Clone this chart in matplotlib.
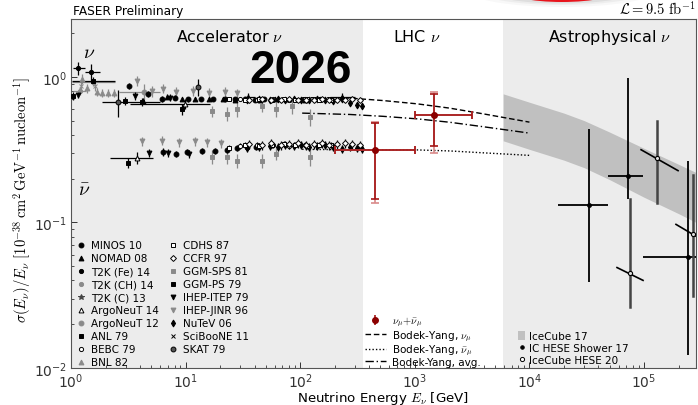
import matplotlib
matplotlib.use('Agg')
import matplotlib.pyplot as plt
from matplotlib.lines import Line2D
from matplotlib.patches import Patch, Ellipse
import numpy as np

plt.rcParams['font.family'] = ['DejaVu Sans']
plt.rcParams['mathtext.fontset'] = 'cm'

# ---------------- data (sigma/E in 1e-38 cm^2/GeV/nucleon, E in GeV) -------------
# T2K (Fe) 14
T2KFE_E = [1.16, 1.50]
T2KFE_S = [1.15, 1.08]
T2KFE_ERR = [0.12, 0.15]
T2KFE_XLO = [1.04, 1.32]
T2KFE_XHI = [1.32, 1.80]
# T2K (C) 13
T2KC_E = [1.56]
T2KC_S = [0.944]
T2KC_ERR = [0.05]
T2KC_XLO = [1.02]
T2KC_XHI = [2.42]
# T2K (CH) 14
T2KCH_E = [1.56, 1.20]
T2KCH_S = [0.92, 0.806]
T2KCH_ERR = [0.05, 0.05]
T2KCH_XLO = [1.02, 1.04]
T2KCH_XHI = [2.42, 1.35]
# BNL 82
BNL_E = [1.25, 1.38, 1.69, 1.86, 2.10, 2.35]
BNL_S = [0.97, 0.84, 0.79, 0.78, 0.78, 0.78]
BNL_ERR = [0.07, 0.06, 0.05, 0.05, 0.05, 0.05]
# SciBooNE 11
SCIB_E = [1.22, 1.62]
SCIB_S = [0.86, 0.87]
SCIB_ERR = [0.06, 0.07]
# ANL 79
ANL_E = [1.05]
ANL_S = [0.74]
ANL_ERR = [0.05]
# IHEP-ITEP 79
ITEP_NU_E = [1.15, 3.6, 7.3]
ITEP_NU_S = [0.753, 0.74, 0.72]
ITEP_NU_ERR = [0.04, 0.05, 0.04]
ITEP_NUB_E = [4.8, 7.0, 10.7]
ITEP_NUB_S = [0.30, 0.30, 0.297]
ITEP_NUB_ERR = [0.02, 0.02, 0.02]
# IHEP-JINR 96
JINR_NU_E = [3.8, 5.1, 6.3, 8.2, 11.5, 16, 22, 28]
JINR_NU_S = [0.94, 0.80, 0.83, 0.79, 0.80, 0.78, 0.79, 0.77]
JINR_NU_ERR = [0.08, 0.07, 0.06, 0.06, 0.06, 0.06, 0.06, 0.06]
JINR_NUB_E = [4.2, 6.2, 8.8, 12, 15.5, 20.5]
JINR_NUB_S = [0.36, 0.365, 0.355, 0.36, 0.355, 0.35]
JINR_NUB_ERR = [0.025, 0.025, 0.025, 0.025, 0.025, 0.025]
# MINOS 10
MINOS_NU_E = [3.2, 4.7, 6.2, 8.1, 10.5, 13.5, 17.5, 22, 27, 33, 40, 48]
MINOS_NU_S = [0.868, 0.765, 0.707, 0.72, 0.70, 0.70, 0.705, 0.70, 0.70, 0.70, 0.695, 0.70]
MINOS_NU_ERR = [0.04, 0.04, 0.03, 0.03, 0.03, 0.02, 0.02, 0.02, 0.02, 0.02, 0.02, 0.02]
MINOS_NUB_E = [6.35, 8.2, 10.3, 13.9, 18, 23, 28, 34, 41]
MINOS_NUB_S = [0.307, 0.297, 0.307, 0.311, 0.311, 0.315, 0.325, 0.33, 0.33]
MINOS_NUB_ERR = [0.02, 0.015, 0.015, 0.015, 0.015, 0.015, 0.015, 0.015, 0.015]
# NOMAD 08
NOMAD_E = [4.25, 6.9, 9.3, 12, 16, 21, 27, 35, 45, 60, 80, 110, 150, 230]
NOMAD_S = [0.685, 0.73, 0.70, 0.705, 0.70, 0.70, 0.69, 0.73, 0.695, 0.70, 0.70, 0.695, 0.70, 0.73]
NOMAD_ERR = [0.03, 0.03, 0.02, 0.02, 0.02, 0.02, 0.02, 0.05, 0.02, 0.02, 0.02, 0.02, 0.02, 0.04]
NOMAD_XLO = [4.25, 6.9, 9.3, 12, 16, 21, 27, 32, 45, 60, 80, 110, 150, 182]
NOMAD_XHI = [4.25, 6.9, 9.3, 12, 16, 21, 27, 40, 45, 60, 80, 110, 150, 300]
# GGM-PS 79
GGMPS_NU_E = [2.96, 4.2, 9.3]
GGMPS_NU_S = [0.685, 0.675, 0.60]
GGMPS_NU_ERR = [0.04, 0.04, 0.05]
GGMPS_NUB_E = [3.15]
GGMPS_NUB_S = [0.257]
GGMPS_NUB_ERR = [0.02]
# GGM-SPS 81
GGMSPS_NU_E = [17, 23, 28, 46, 62, 85, 122]
GGMSPS_NU_S = [0.58, 0.56, 0.60, 0.63, 0.60, 0.63, 0.53]
GGMSPS_NU_ERR = [0.05, 0.06, 0.07, 0.06, 0.07, 0.07, 0.07]
GGMSPS_NUB_E = [17, 23, 28, 46, 62, 122]
GGMSPS_NUB_S = [0.283, 0.283, 0.266, 0.266, 0.297, 0.283]
GGMSPS_NUB_ERR = [0.03, 0.03, 0.03, 0.03, 0.03, 0.04]
# ArgoNeuT 14
ARGO14_NU_E = [9.9]
ARGO14_NU_S = [0.655]
ARGO14_NU_ERR = [0.05]
ARGO14_NU_XLO = [3.3]
ARGO14_NU_XHI = [16.3]
ARGO14_NUB_E = [3.75]
ARGO14_NUB_S = [0.279]
ARGO14_NUB_ERR = [0.025]
ARGO14_NUB_XLO = [2.2]
ARGO14_NUB_XHI = [5.2]
# ArgoNeuT 12
ARGO12_E = [4.3]
ARGO12_S = [0.79]
ARGO12_ERR = [0.10]
ARGO12_XLO = [2.6]
ARGO12_XHI = [6.0]
# SKAT 79
SKAT_E = [2.57, 12.8]
SKAT_S = [0.674, 0.855]
SKAT_ERR = [0.14, 0.115]
SKAT_XLO = [1.86, 12.8]
SKAT_XHI = [6.0, 12.8]
# BEBC 79
BEBC_NU_E = [30, 42, 58, 80, 110, 150]
BEBC_NU_S = [0.70, 0.69, 0.70, 0.695, 0.70, 0.69]
BEBC_NUB_E = [30, 42, 58, 80, 110]
BEBC_NUB_S = [0.335, 0.34, 0.34, 0.335, 0.34]
# CDHS 87
CDHS_E = [24, 33, 44, 57, 72, 90, 115, 145, 185]
CDHS_NU = [0.70, 0.69, 0.70, 0.695, 0.70, 0.69, 0.70, 0.695, 0.69]
CDHS_NUB = [0.325, 0.34, 0.335, 0.34, 0.345, 0.34, 0.335, 0.34, 0.34]
# CCFR 97
CCFR_E = [36, 46, 56, 68, 80, 95, 112, 132, 155, 180, 210, 245, 285, 330]
CCFR_NU = [0.69, 0.70, 0.69, 0.695, 0.70, 0.69, 0.695, 0.69, 0.70, 0.69, 0.695, 0.69, 0.70, 0.69]
CCFR_NUB = [0.345, 0.34, 0.35, 0.34, 0.345, 0.35, 0.34, 0.345, 0.35, 0.34, 0.345, 0.35, 0.345, 0.34]
# NuTeV 06
NUTEV_E = [34, 44, 54, 64, 74, 88, 102, 120, 140, 165, 195, 230, 270, 315, 345]
NUTEV_NU = [0.69, 0.70, 0.695, 0.70, 0.69, 0.70, 0.695, 0.69, 0.70, 0.69, 0.685, 0.70, 0.66, 0.64, 0.635]
NUTEV_NUB = [0.325, 0.33, 0.335, 0.33, 0.34, 0.335, 0.34, 0.33, 0.335, 0.34, 0.33, 0.32, 0.33, 0.325, 0.32]

# Bodek-Yang curves
BY_NU_E = [104, 180, 272, 529, 1050, 2020, 3930, 10000]
BY_NU_S = [0.72, 0.72, 0.715, 0.688, 0.653, 0.61, 0.558, 0.489]
BY_NUB_E = [104, 272, 1050, 2020, 3930, 10000]
BY_NUB_S = [0.318, 0.316, 0.315, 0.31, 0.301, 0.289]
BY_AVG_E = [104, 272, 529, 1050, 2020, 3930, 10000]
BY_AVG_S = [0.564, 0.552, 0.536, 0.515, 0.488, 0.455, 0.411]

# FASER (LHC) points
FASER_E = [450, 1472]
FASER_S = [0.316, 0.549]
FASER_XLO = [200, 1000]
FASER_XHI = [1000, 3160]
FASER_YLO_IN = [0.146, 0.337]
FASER_YHI_IN = [0.485, 0.765]
FASER_YLO_OUT = [0.135, 0.30]
FASER_YHI_OUT = [0.492, 0.79]

# IceCube 17 band
IC17_E = [5900, 10000, 20000, 30000, 50000, 100000, 200000, 300000]
IC17_LO = [0.364, 0.318, 0.268, 0.238, 0.197, 0.149, 0.115, 0.098]
IC17_HI = [0.765, 0.67, 0.564, 0.501, 0.418, 0.323, 0.251, 0.216]

# IC HESE Shower 17
SH17_E = [33000, 72500, 240000]
SH17_S = [0.131, 0.21, 0.0575]
SH17_YLO = [0.0387, 0.146, 0.0122]
SH17_YHI = [0.44, 0.984, 0.266]
SH17_XLO = [17700, 48500, 98000]
SH17_XHI = [48500, 98000, 350000]

# IceCube HESE 20 (bin ends in E and sigma/E)
H20_E = [130000, 75500, 270000]
H20_S = [0.279, 0.0448, 0.0827]
H20_YLO = [0.135, 0.0263, 0.031]
H20_YHI = [0.5, 0.146, 0.213]
H20_XLO = [94200, 58100, 190000]
H20_XHI = [198000, 98000, 330000]
H20_SLO = [0.316, 0.049, 0.097]
H20_SHI = [0.227, 0.040, 0.075]

# ---------------- figure ------------------
W, H = 698, 406
fig = plt.figure(figsize=(W / 100, H / 100), dpi=100)
ax = fig.add_axes([71 / W, 1 - 369 / H, 625 / W, 349 / H])
ax.set_xscale('log')
ax.set_yscale('log')
ax.set_xlim(1, 2.84e5)
ax.set_ylim(0.01, 2.5)

ax.axvspan(1, 355, color='#ececec', zorder=0, lw=0)
ax.axvspan(5900, 1e7, color='#ececec', zorder=0, lw=0)

BLK = 'black'
GRY = '#8a8a8a'
DGR = '#444444'


def eb(E, S, ERR, marker, color, mfc, ms=3.5, XLO=None, XHI=None, z=3):
    E = np.asarray(E, float)
    xerr = None
    if XLO is not None:
        xerr = [E - np.asarray(XLO, float), np.asarray(XHI, float) - E]
    ax.errorbar(E, S, yerr=ERR, xerr=xerr, fmt=marker, ms=ms, color=color,
                mfc=mfc, mec=color, mew=0.7, elinewidth=0.9, capsize=0, zorder=z)


# accelerator data
eb(GGMSPS_NU_E, GGMSPS_NU_S, GGMSPS_NU_ERR, 's', GRY, GRY)
eb(GGMSPS_NUB_E, GGMSPS_NUB_S, GGMSPS_NUB_ERR, 's', GRY, GRY)
eb(BNL_E, BNL_S, BNL_ERR, '^', GRY, GRY)
eb(JINR_NU_E, JINR_NU_S, JINR_NU_ERR, 'v', GRY, GRY)
eb(JINR_NUB_E, JINR_NUB_S, JINR_NUB_ERR, 'v', GRY, GRY)
eb(T2KCH_E, T2KCH_S, T2KCH_ERR, 'o', GRY, GRY, ms=3, XLO=T2KCH_XLO, XHI=T2KCH_XHI)
eb(ARGO12_E, ARGO12_S, ARGO12_ERR, 'o', GRY, GRY, XLO=ARGO12_XLO, XHI=ARGO12_XHI)
eb(SCIB_E, SCIB_S, SCIB_ERR, 'x', GRY, GRY)
eb(T2KC_E, T2KC_S, T2KC_ERR, 's', BLK, BLK, ms=3, XLO=T2KC_XLO, XHI=T2KC_XHI)
eb(T2KFE_E, T2KFE_S, T2KFE_ERR, 'o', BLK, BLK, ms=3, XLO=T2KFE_XLO, XHI=T2KFE_XHI)
eb(ANL_E, ANL_S, ANL_ERR, 's', BLK, BLK, ms=2.5)
eb(ITEP_NU_E, ITEP_NU_S, ITEP_NU_ERR, 'v', BLK, BLK)
eb(ITEP_NUB_E, ITEP_NUB_S, ITEP_NUB_ERR, 'v', BLK, BLK)
eb(MINOS_NU_E, MINOS_NU_S, MINOS_NU_ERR, 'o', BLK, BLK)
eb(MINOS_NUB_E, MINOS_NUB_S, MINOS_NUB_ERR, 'o', BLK, BLK)
eb(NOMAD_E, NOMAD_S, NOMAD_ERR, '^', BLK, BLK, XLO=NOMAD_XLO, XHI=NOMAD_XHI)
eb(GGMPS_NU_E, GGMPS_NU_S, GGMPS_NU_ERR, 's', BLK, BLK)
eb(GGMPS_NUB_E, GGMPS_NUB_S, GGMPS_NUB_ERR, 's', BLK, BLK)
eb(SKAT_E, SKAT_S, SKAT_ERR, 'o', BLK, '#555555', XLO=SKAT_XLO, XHI=SKAT_XHI)
eb(BEBC_NU_E, BEBC_NU_S, [0.02] * len(BEBC_NU_E), 'o', BLK, 'white', ms=3)
eb(BEBC_NUB_E, BEBC_NUB_S, [0.015] * len(BEBC_NUB_E), 'o', BLK, 'white', ms=3)
eb(NUTEV_E, NUTEV_NU, [0.02] * len(NUTEV_E), 'd', BLK, BLK)
eb(NUTEV_E, NUTEV_NUB, [0.02] * len(NUTEV_E), 'd', BLK, BLK)
eb(CDHS_E, CDHS_NU, [0.02] * len(CDHS_E), 's', BLK, 'white', ms=3.5)
eb(CDHS_E, CDHS_NUB, [0.015] * len(CDHS_E), 's', BLK, 'white', ms=3.5)
eb(CCFR_E, CCFR_NU, [0.02] * len(CCFR_E), 'D', BLK, 'white', ms=3)
eb(CCFR_E, CCFR_NUB, [0.025] * len(CCFR_E), 'D', BLK, 'white', ms=3)
eb(ARGO14_NU_E, ARGO14_NU_S, ARGO14_NU_ERR, '^', BLK, 'white', XLO=ARGO14_NU_XLO, XHI=ARGO14_NU_XHI)
eb(ARGO14_NUB_E, ARGO14_NUB_S, ARGO14_NUB_ERR, '^', BLK, 'white', XLO=ARGO14_NUB_XLO, XHI=ARGO14_NUB_XHI)

# Bodek-Yang
ax.plot(BY_NU_E, BY_NU_S, color='black', ls=(0, (4, 2)), lw=1.0, zorder=2)
ax.plot(BY_NUB_E, BY_NUB_S, color='black', ls=(0, (1, 1.5)), lw=1.0, zorder=2)
ax.plot(BY_AVG_E, BY_AVG_S, color='black', ls=(0, (6, 2, 1, 2)), lw=1.0, zorder=2)

# FASER
RED = '#a31515'
LRED = '#d98a8a'
FE = np.asarray(FASER_E, float)
FS = np.asarray(FASER_S, float)
ax.errorbar(FE, FS, yerr=[FS - np.asarray(FASER_YLO_OUT), np.asarray(FASER_YHI_OUT) - FS],
            xerr=[FE - np.asarray(FASER_XLO), np.asarray(FASER_XHI) - FE],
            fmt='none', ecolor=LRED, elinewidth=1.2, capsize=3, capthick=1.2, zorder=4)
fcont = ax.errorbar(FE, FS, yerr=[FS - np.asarray(FASER_YLO_IN), np.asarray(FASER_YHI_IN) - FS],
                    xerr=[FE - np.asarray(FASER_XLO), np.asarray(FASER_XHI) - FE],
                    fmt='o', ms=4, color='#8b0000', ecolor=RED, elinewidth=1.2,
                    capsize=3, capthick=1.2, zorder=5)
fleg = ax.errorbar([], [], yerr=[], fmt='o', ms=4, color='#8b0000', ecolor=RED,
                   elinewidth=1.2, capsize=2.5, capthick=1.2)

# IceCube band
ax.fill_between(IC17_E, IC17_LO, IC17_HI, color='#c0c0c0', lw=0, zorder=1)

# IC HESE Shower 17
SE = np.asarray(SH17_E, float)
SS = np.asarray(SH17_S, float)
ax.errorbar(SE, SS, yerr=[SS - np.asarray(SH17_YLO), np.asarray(SH17_YHI) - SS],
            xerr=[SE - np.asarray(SH17_XLO), np.asarray(SH17_XHI) - SE],
            fmt='o', ms=2.5, color='black', elinewidth=1.3, capsize=0, zorder=4)
# IceCube HESE 20
for i in range(len(H20_E)):
    ax.plot([H20_E[i], H20_E[i]], [H20_YLO[i], H20_YHI[i]], color=DGR, lw=1.8, zorder=4)
    ax.plot([H20_XLO[i], H20_XHI[i]], [H20_SLO[i], H20_SHI[i]], color='black', lw=1.2, zorder=4)
ax.plot(H20_E, H20_S, 'o', ms=3, mfc='#dddddd', mec='black', mew=0.8, ls='none', zorder=5)

# ---------------- text ---------------
ax.text(24.4, 1.9, r'Accelerator $\nu$', ha='center', va='center', fontsize=11.5, zorder=6)
ax.text(1050, 1.9, r'LHC $\nu$', ha='center', va='center', fontsize=11.5, zorder=6)
ax.text(50000, 1.9, r'Astrophysical $\nu$', ha='center', va='center', fontsize=11.5, zorder=6)
ax.text(1.436, 1.50, r'$\nu$', ha='center', va='center', fontsize=14, zorder=6)
ax.text(1.30, 0.168, r'$\bar{\nu}$', ha='center', va='center', fontsize=14, zorder=6)

fig.text(301 / W, 1 - 83 / H, '2026', ha='center', va='baseline', fontsize=33,
         fontweight='bold', family='Liberation Sans', zorder=10)

fig.text(73 / W, 1 - 15 / H, 'FASER Preliminary', ha='left', va='baseline', fontsize=8.7)
fig.text(696 / W, 1 - 15 / H, r'$\mathcal{L} = 9.5\ \mathrm{fb}^{-1}$', ha='right',
         va='baseline', fontsize=10.5)

# red button-like shape at top edge
for w, h, a in [(190, 34, 0.05), (170, 30, 0.08), (150, 27, 0.12)]:
    fig.add_artist(Ellipse((562 / W, 1 + 9 / H), w / W, h / H, transform=fig.transFigure,
                           color='#777777', alpha=a, lw=0, clip_on=False))
fig.add_artist(Ellipse((562 / W, 1 + 9 / H), 112 / W, 24 / H, transform=fig.transFigure,
                       color='#e8141c', lw=0, clip_on=False))

ax.set_xlabel(r'Neutrino Energy $E_\nu$ [GeV]', fontsize=9.6, va='bottom')
ax.xaxis.set_label_coords(0.5, -0.108)
ax.set_ylabel(r'$\sigma(E_\nu)/E_\nu\ [10^{-38}\,\mathrm{cm}^2\,\mathrm{GeV}^{-1}\,\mathrm{nucleon}^{-1}]$',
              fontsize=10.5)
ax.yaxis.set_label_coords(-0.06, 0.484)

ax.tick_params(which='both', direction='in', labelsize=10, colors='#333333')
ax.tick_params(which='major', length=4, width=0.7, pad=2.5)
ax.tick_params(axis='x', which='major', pad=2.2)
ax.tick_params(which='minor', length=2, width=0.6)
for sp in ax.spines.values():
    sp.set_color('#555555')
    sp.set_linewidth(0.8)

# ---------------- legends ---------------
def mk(marker, color, mfc, ms=3.5):
    return Line2D([], [], marker=marker, ls='none', color=color, mfc=mfc, mec=color, ms=ms, mew=0.7)

h1 = [mk('o', BLK, BLK), mk('^', BLK, BLK), mk('o', BLK, BLK, 3), mk('o', GRY, GRY, 3),
      mk('*', DGR, DGR, 4), mk('^', BLK, 'white'), mk('o', GRY, GRY), mk('s', BLK, BLK, 2.5),
      mk('o', BLK, 'white', 3), mk('^', GRY, GRY),
      mk('s', BLK, 'white'), mk('D', BLK, 'white', 3), mk('s', GRY, GRY), mk('s', BLK, BLK),
      mk('v', BLK, BLK), mk('v', GRY, GRY), mk('d', BLK, BLK), mk('x', BLK, BLK),
      mk('o', BLK, '#555555')]
l1 = ['MINOS 10', 'NOMAD 08', 'T2K (Fe) 14', 'T2K (CH) 14', 'T2K (C) 13', 'ArgoNeuT 14',
      'ArgoNeuT 12', 'ANL 79', 'BEBC 79', 'BNL 82',
      'CDHS 87', 'CCFR 97', 'GGM-SPS 81', 'GGM-PS 79', 'IHEP-ITEP 79', 'IHEP-JINR 96',
      'NuTeV 06', 'SciBooNE 11', 'SKAT 79']
leg1 = ax.legend(h1, l1, loc='upper left', bbox_to_anchor=(0.01, 0.366), ncol=2,
                 frameon=False, fontsize=7.5, handlelength=0.8, handletextpad=0.5,
                 labelspacing=0.29, columnspacing=1.0, borderpad=0, borderaxespad=0)
ax.add_artist(leg1)

h2 = [fleg, Line2D([], [], color='black', ls=(0, (4, 2)), lw=1.0),
      Line2D([], [], color='black', ls=(0, (1, 1.5)), lw=1.0),
      Line2D([], [], color='black', ls=(0, (6, 2, 1, 2)), lw=1.0)]
l2 = [r'$\nu_\mu\!+\!\bar{\nu}_\mu$', r'Bodek-Yang, $\nu_\mu$', r'Bodek-Yang, $\bar{\nu}_\mu$',
      'Bodek-Yang, avg.']
leg2 = ax.legend(h2, l2, loc='lower left', bbox_to_anchor=(0.47, 0.003), frameon=False,
                 fontsize=7.5, handlelength=2.0, handletextpad=0.6, labelspacing=0.0,
                 borderpad=0, borderaxespad=0)
ax.add_artist(leg2)

h3 = [Patch(color='#c0c0c0', lw=0), mk('o', BLK, BLK, 2.5), mk('o', BLK, 'white', 3)]
l3 = ['IceCube 17', 'IC HESE Shower 17', 'IceCube HESE 20']
leg3 = ax.legend(h3, l3, loc='lower left', bbox_to_anchor=(0.715, 0.008), frameon=False,
                 fontsize=7.5, handlelength=0.7, handleheight=0.9, handletextpad=0.4,
                 labelspacing=0.2, borderpad=0, borderaxespad=0)

fig.savefig('out.png', dpi=100)
